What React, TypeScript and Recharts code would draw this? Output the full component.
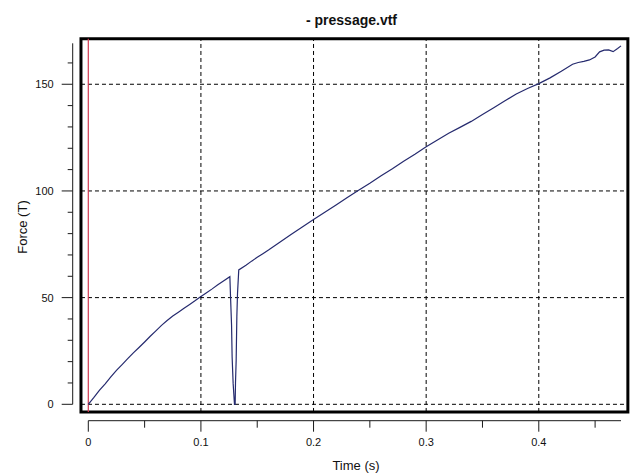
import React from 'react';
import { LineChart, Line, XAxis, YAxis, ReferenceLine, ReferenceArea } from 'recharts';

// Press force recording: time (s) and force (T)
const timeS = [
  0, 0.005, 0.01, 0.015, 0.02, 0.025, 0.03, 0.035, 0.04, 0.045, 0.05, 0.055, 0.06, 0.065,
  0.07, 0.075, 0.08, 0.085, 0.09, 0.095, 0.1, 0.105, 0.11, 0.115, 0.12, 0.1257, 0.1263,
  0.1272, 0.1277, 0.1286, 0.1298, 0.1304, 0.1307, 0.1313, 0.1319, 0.1325, 0.1336, 0.14,
  0.145, 0.15, 0.155, 0.16, 0.17, 0.18, 0.19, 0.2, 0.21, 0.22, 0.23, 0.24, 0.25, 0.26,
  0.27, 0.28, 0.29, 0.3, 0.31, 0.32, 0.33, 0.34, 0.35, 0.36, 0.37, 0.38, 0.39, 0.4, 0.41,
  0.42, 0.43, 0.435, 0.44, 0.445, 0.45, 0.454, 0.458, 0.462, 0.466, 0.47, 0.473,
];
const forceT = [
  0, 3.2, 6.6, 9.6, 12.8, 15.9, 18.6, 21.4, 24.1, 26.6, 29.2, 31.9, 34.4, 37.0,
  39.3, 41.4, 43.2, 45.0, 46.8, 48.6, 50.5, 52.3, 54.1, 56.0, 57.8, 59.8, 50.4,
  37.1, 22.3, 9.8, 0, 0, 10, 20.7, 41, 52, 63, 65.2,
  67.1, 68.9, 70.6, 72.3, 75.9, 79.6, 83.1, 86.6, 90.0, 93.4, 96.9, 100.3, 103.6, 107.1,
  110.4, 113.9, 117.2, 120.7, 123.9, 127.0, 129.8, 132.6, 135.8, 139.0, 142.3, 145.4, 148.0, 150.3, 153.0,
  156.1, 159.4, 160.2, 160.7, 161.4, 162.8, 165.2, 166.0, 166.1, 165.3, 166.8, 168.0,
];

const xMajorTicks = [0, 0.1, 0.2, 0.3, 0.4];
const xTickLabels = ['0', '0.1', '0.2', '0.3', '0.4'];
const xMinorTicks = [0.05, 0.15, 0.25, 0.35, 0.45];
const yMajorTicks = [0, 50, 100, 150];
const yTickLabels = ['0', '50', '100', '150'];
const yMinorTicks = [10, 20, 30, 40, 60, 70, 80, 90, 110, 120, 130, 140, 160];

const titleText = '- pressage.vtf';
const xTitle = 'Time (s)';
const yTitle = 'Force (T)';

// Axis ranges and the extent of the surrounding frame (in data units)
const X_DOMAIN: [number, number] = [0, 0.473];
const Y_DOMAIN: [number, number] = [0, 169.2];
const FRAME_X: [number, number] = [-0.0065, 0.4791];
const FRAME_Y: [number, number] = [-3.6, 171.3];

// the spacer axis sits next to the plot, the drawn axis outside it
const PAD_ID = 'axisA';
const AXIS_ID = 'axisB';

const data = timeS.map((t, i) => ({ t, f: forceT[i] }));

const FONT = '"Liberation Sans", Arial, Helvetica, sans-serif';
const AXIS_COLOR = '#1a1a1a';

const YTick = (props: any) => {
  const { x, y, payload } = props;
  const idx = yMajorTicks.indexOf(payload.value);
  const major = idx >= 0;
  return (
    <g>
      <line x1={x - (major ? 11 : 5)} x2={x} y1={y} y2={y} stroke={AXIS_COLOR} strokeWidth={1} />
      {major && (
        <text x={x - 19} y={y} dy={4} textAnchor="end" fontSize={11} fontFamily={FONT} fill="#111">
          {yTickLabels[idx]}
        </text>
      )}
    </g>
  );
};

const XTick = (props: any) => {
  const { x, y, payload } = props;
  const idx = xMajorTicks.findIndex((v) => Math.abs(v - payload.value) < 1e-9);
  const major = idx >= 0;
  return (
    <g>
      <line x1={x} x2={x} y1={y} y2={y + (major ? 11 : 7)} stroke={AXIS_COLOR} strokeWidth={1} />
      {major && (
        <text x={x} y={y + 25} textAnchor="middle" fontSize={11} fontFamily={FONT} fill="#111">
          {xTickLabels[idx]}
        </text>
      )}
    </g>
  );
};

export default function App() {
  const xTicks = [...xMajorTicks, ...xMinorTicks].sort((a, b) => a - b);
  const yTicks = [...yMajorTicks, ...yMinorTicks].sort((a, b) => a - b);
  const gridStyle = { stroke: '#000', strokeWidth: 1, strokeDasharray: '4 3' };

  return (
    <div style={{ position: 'absolute', left: 0, top: 0, width: 633, height: 476, background: '#fff' }}>
      <LineChart
        width={633}
        height={476}
        data={data}
        margin={{ top: 43.3, right: 12, bottom: 15.3, left: 0 }}
      >
        <XAxis xAxisId={PAD_ID} dataKey="t" type="number" domain={X_DOMAIN} height={16.4}
          axisLine={false} tickLine={false} tick={false} />
        <XAxis xAxisId={AXIS_ID} dataKey="t" type="number" domain={X_DOMAIN} ticks={xTicks}
          interval={0} height={40} tickSize={0} tickMargin={0} tickLine={false}
          axisLine={{ stroke: AXIS_COLOR, strokeWidth: 1 }} tick={<XTick />} />
        <YAxis yAxisId={PAD_ID} dataKey="f" type="number" domain={Y_DOMAIN} width={15.6}
          axisLine={false} tickLine={false} tick={false} />
        <YAxis yAxisId={AXIS_ID} dataKey="f" type="number" domain={Y_DOMAIN} ticks={yTicks}
          interval={0} width={72.7} tickSize={0} tickMargin={0} tickLine={false}
          axisLine={{ stroke: AXIS_COLOR, strokeWidth: 1 }} tick={<YTick />} />

        {yMajorTicks.map((v) => (
          <ReferenceLine key={`h${v}`} xAxisId={AXIS_ID} yAxisId={AXIS_ID} ifOverflow="visible"
            segment={[{ x: FRAME_X[0], y: v }, { x: FRAME_X[1], y: v }]} {...gridStyle} />
        ))}
        {xMajorTicks.filter((v) => v > 0).map((v) => (
          <ReferenceLine key={`v${v}`} xAxisId={AXIS_ID} yAxisId={AXIS_ID} ifOverflow="visible"
            segment={[{ x: v, y: FRAME_Y[0] }, { x: v, y: FRAME_Y[1] }]} {...gridStyle} />
        ))}
        <ReferenceLine xAxisId={AXIS_ID} yAxisId={AXIS_ID} ifOverflow="visible"
          segment={[{ x: 0, y: FRAME_Y[0] }, { x: 0, y: FRAME_Y[1] }]}
          stroke="#d23a52" strokeWidth={1.2} />
        <ReferenceArea xAxisId={AXIS_ID} yAxisId={AXIS_ID} ifOverflow="visible"
          x1={FRAME_X[0]} x2={FRAME_X[1]} y1={FRAME_Y[0]} y2={FRAME_Y[1]}
          fill="none" fillOpacity={0} stroke="#000" strokeWidth={3} />

        <Line xAxisId={AXIS_ID} yAxisId={AXIS_ID} type="linear" dataKey="f" stroke="#252a6e"
          strokeWidth={1.2} dot={false} activeDot={false} isAnimationActive={false} />
      </LineChart>
      <svg width={633} height={476} style={{ position: 'absolute', left: 0, top: 0, pointerEvents: 'none' }}>
        <text x={351.5} y={25} textAnchor="middle" fontSize={14} fontWeight="bold" fontFamily={FONT} fill="#111">
          {titleText}
        </text>
        <text x={356} y={469.5} textAnchor="middle" fontSize={13} fontFamily={FONT} fill="#111">
          {xTitle}
        </text>
        <text transform="translate(27, 227) rotate(-90)" textAnchor="middle" fontSize={13} fontFamily={FONT} fill="#111">
          {yTitle}
        </text>
      </svg>
    </div>
  );
}
